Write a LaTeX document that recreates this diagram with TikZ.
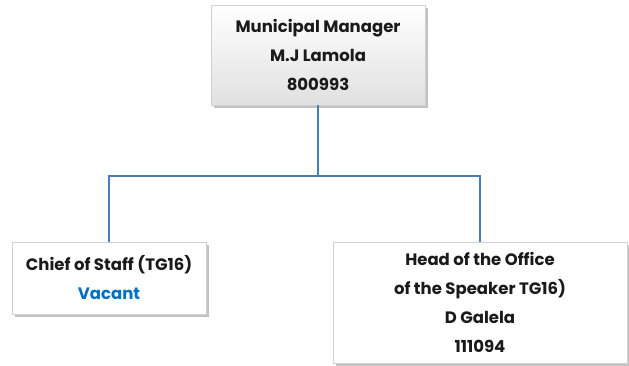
\documentclass[tikz,border=0pt]{standalone}
\usepackage{fontspec}
\setmainfont{Poppins}
\usetikzlibrary{shadows}
\definecolor{linkblue}{HTML}{4A7EBB}
\definecolor{vacantblue}{HTML}{0070C0}
\definecolor{inktext}{HTML}{1A1A1A}
\tikzset{
  post/.style={draw=black!18, line width=0.6pt, align=center, inner sep=0pt,
    text=inktext, font=\fontsize{16.5}{29}\selectfont\bfseries,
    drop shadow={shadow xshift=2.5pt, shadow yshift=-2.5pt, opacity=0.4, fill=black!60}},
  toppost/.style={post, top color=white, bottom color=black!12},
  plainpost/.style={post, fill=white},
  link/.style={draw=linkblue, line width=1.5pt}
}
\begin{document}
\begin{tikzpicture}[x=1pt,y=-1pt]
  \useasboundingbox (0,0) rectangle (629,365);
  \node[toppost, minimum width=214pt, minimum height=100pt] (mm) at (318,55)
    {Municipal Manager\\M.J Lamola\\800993};
  \node[plainpost, minimum width=194pt, minimum height=72pt] (cos) at (109,278)
    {Chief of Staff (TG16)\\\textcolor{vacantblue}{Vacant}};
  \node[plainpost, minimum width=294pt, minimum height=121pt] (hos) at (480,302.5)
    {Head of the Office\\of the Speaker TG16)\\D Galela\\111094};
  \coordinate (bus) at (318,176);
  \draw[link] (mm.south) -- (bus) -| (cos.north);
  \draw[link] (bus) -| (hos.north);
\end{tikzpicture}
\end{document}
